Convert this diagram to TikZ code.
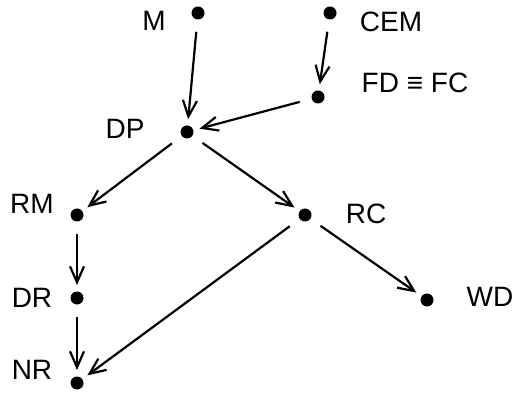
\documentclass[tikz,border=0pt]{standalone}
\usepackage{fontspec}
\setmainfont{Liberation Sans}
\usetikzlibrary{arrows.meta}
\begin{document}
\begin{tikzpicture}[
        x=0.5pt, y=-0.5pt,
        punto/.style={circle, fill=black, inner sep=0pt, minimum size=6.5pt},
        etiq/.style={inner sep=0pt, font=\fontsize{14}{16}\selectfont},
        flecha/.style={-{Straight Barb[length=8pt, width=7pt]}, line width=1.1pt, shorten <=6pt, shorten >=3pt}
    ]
    \useasboundingbox (0,0) rectangle (512,394);

    \node (m) [punto] at (198,13) {};
    \node (cem) [punto] at (330,13) {};
    \node (fd) [punto] at (318,97) {};
    \node (dp) [punto] at (187,132) {};
    \node (rm) [punto] at (77,215) {};
    \node (rc) [punto] at (305,215) {};
    \node (dr) [punto] at (77,298) {};
    \node (wd) [punto] at (427,300) {};
    \node (nr) [punto] at (77,383) {};

    \node (lm) [etiq] at (154,21) {M};
    \node (lcem) [etiq] at (391,22) {CEM};
    \node (lfd) [etiq] at (415,83) {FD ≡ FC};
    \node (ldp) [etiq] at (125,129) {DP};
    \node (lrm) [etiq] at (32,204) {RM};
    \node (lrc) [etiq] at (366,214) {RC};
    \node (ldr) [etiq] at (32,298) {DR};
    \node (lwd) [etiq] at (490,297) {WD};
    \node (lnr) [etiq] at (32,370) {NR};

    \draw [flecha] (m) -- (dp);
    \draw [flecha] (cem) -- (fd);
    \draw [flecha] (fd) -- (dp);
    \draw [flecha] (dp) -- (rm);
    \draw [flecha] (dp) -- (rc);
    \draw [flecha] (rm) -- (dr);
    \draw [flecha] (dr) -- (nr);
    \draw [flecha] (rc) -- (nr);
    \draw [flecha] (rc) -- (wd);
\end{tikzpicture}
\end{document}
